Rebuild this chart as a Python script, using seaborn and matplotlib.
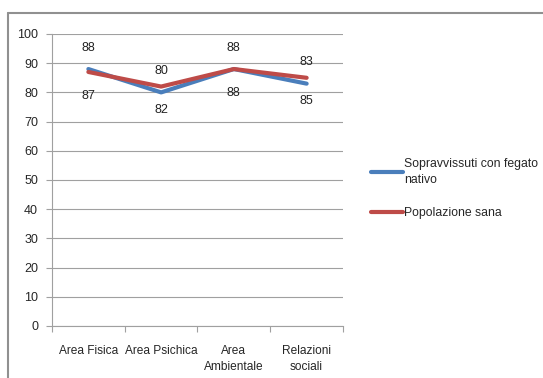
import matplotlib
matplotlib.use("Agg")
import matplotlib.pyplot as plt
from matplotlib.lines import Line2D
import seaborn as sns
import pandas as pd

categories = ["Area Fisica", "Area Psichica", "Area\nAmbientale", "Relazioni\nsociali"]
sopravvissuti = [88, 80, 88, 83]
popolazione = [87, 82, 88, 85]
series_names = ["Sopravvissuti con fegato\nnativo", "Popolazione sana"]
y_ticks = [0, 10, 20, 30, 40, 50, 60, 70, 80, 90, 100]

colors = ["#4A7EBB", "#BE4B48"]

df = pd.DataFrame({
    "categoria": categories * 2,
    "valore": sopravvissuti + popolazione,
    "serie": [series_names[0]] * 4 + [series_names[1]] * 4,
})

sns.set_style("white")
plt.rcParams["font.family"] = ["Liberation Sans Narrow", "Liberation Sans", "DejaVu Sans"]

FS = 9
fig = plt.figure(figsize=(5.43, 3.78), dpi=100)
ax = fig.add_axes([52 / 543, 1 - 326 / 378, 291 / 543, 292 / 378])

sns.lineplot(data=df, x="categoria", y="valore", hue="serie", palette=colors,
             linewidth=3.0, ax=ax, sort=False, legend=False)

ax.set_xlim(-0.5, 3.5)
ax.set_ylim(0, 100)
ax.set_yticks(y_ticks)
ax.set_xlabel("")
ax.set_ylabel("")
ax.grid(axis="y", color="#a0a0a0", linewidth=0.8)
ax.set_axisbelow(True)

for s in ["top", "right"]:
    ax.spines[s].set_visible(False)
for s in ["left", "bottom"]:
    ax.spines[s].set_color("#a0a0a0")
    ax.spines[s].set_linewidth(0.8)

# category labels centered, tick marks on the boundaries
ax.set_xticks(range(len(categories)))
ax.set_xticklabels(categories, fontsize=8.6, va="top", linespacing=1.4)
ax.tick_params(axis="x", length=0, pad=14)
ax.set_xticks([-0.5, 0.5, 1.5, 2.5, 3.5], minor=True)
ax.tick_params(axis="x", which="minor", length=4, color="#a0a0a0", width=0.8)
ax.tick_params(axis="y", length=4, color="#a0a0a0", width=0.8, labelsize=FS, pad=6)
ax.yaxis.set_tick_params(left=True, direction="out")
ax.xaxis.set_tick_params(which="minor", bottom=True, direction="out")

# data labels: first series above, second series below
for i, v in enumerate(sopravvissuti):
    ax.annotate(str(v), (i, v), xytext=(0, 15.5), textcoords="offset points",
                ha="center", va="center", fontsize=FS, color="#222222")
for i, v in enumerate(popolazione):
    ax.annotate(str(v), (i, v), xytext=(0, -17), textcoords="offset points",
                ha="center", va="center", fontsize=FS, color="#222222")

handles = [Line2D([0], [0], color=c, linewidth=3.0) for c in colors]
leg = fig.legend(handles, series_names, loc="upper left",
                 bbox_to_anchor=(366 / 543, 1 - 153 / 378), frameon=False,
                 fontsize=8.8, handlelength=2.6, handletextpad=0.1,
                 labelspacing=1.7, borderaxespad=0)
for t in leg.get_texts():
    t.set_linespacing(1.5)

# outer chart frame
fig.add_artist(Line2D([8 / 543, 1], [1 - 13 / 378, 1 - 13 / 378],
                      transform=fig.transFigure, color="#909090", linewidth=1.5))
fig.add_artist(Line2D([8 / 543, 8 / 543], [0, 1 - 13 / 378],
                      transform=fig.transFigure, color="#909090", linewidth=1.5))

fig.savefig("out.png", dpi=100)
